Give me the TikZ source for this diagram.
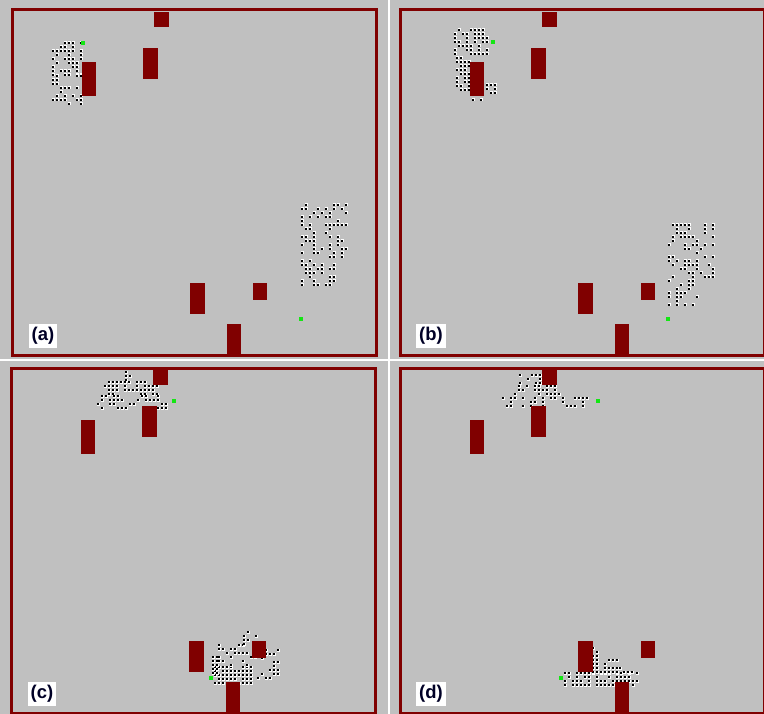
\documentclass[tikz,border=0pt]{standalone}
\usepackage{fontspec}
\setmainfont{Liberation Sans}
\usepackage{tikz}

\definecolor{floor}{RGB}{192,192,192}
\definecolor{brick}{RGB}{128,0,0}
\definecolor{goalgreen}{RGB}{20,230,20}

% one grid of agents, each cell filled with probability #5
\newcommand\crowd[5]{%
  \pgfmathtruncatemacro\nx{(#3-#1)/4}%
  \pgfmathtruncatemacro\ny{(#4-#2)/4}%
  \foreach \i in {0,...,\nx}{%
    \foreach \j in {0,...,\ny}{%
      \pgfmathtruncatemacro\hit{rnd<#5}%
      \ifnum\hit=1
        \fill[white] ({#1+4*\i-1.5},{#2+4*\j-1.5}) rectangle ++(3,3);
        \fill[black] ({#1+4*\i-0.65},{#2+4*\j-0.65}) rectangle ++(1.3,1.3);
      \fi}}}

\newcommand\arena[4]{%
  \begin{scope}[shift={(#1,#2)}]
    \draw[wall] (0,0) rectangle (364,345);
    \fill[block] (142,2) rectangle (157,17);
    \fill[block] (131,38) rectangle (146,69);
    \fill[block] (70,52) rectangle (84,86);
    \fill[block] (178,273) rectangle (193,304);
    \fill[block] (241,273) rectangle (255,290);
    \fill[block] (215,314) rectangle (229,344);
    \node[tag] (#3) at (31,326) {(#4)};
  \end{scope}}

\begin{document}
\begin{tikzpicture}[
    x=0.2mm, y=-0.2mm,
    wall/.style={draw=brick, line width=0.6mm},
    block/.style={fill=brick},
    goal/.style={fill=goalgreen},
    tag/.style={fill=white, inner sep=1.8pt, font=\fontsize{10.5}{12}\selectfont\bfseries, text=black!85!blue}
  ]
  \useasboundingbox (0,0) rectangle (764,714);
  \fill[floor] (0,0) rectangle (764,714);
  \fill[white] (388,0) rectangle (390,714);
  \fill[white] (0,359) rectangle (764,361);

  \pgfmathsetseed{11}
  % (a)
  \crowd{53}{43}{81}{75}{0.5}
  \crowd{53}{76}{81}{107}{0.3}
  \crowd{302}{205}{346}{260}{0.38}
  \crowd{302}{261}{334}{286}{0.33}
  % (b)
  \crowd{455}{30}{490}{54}{0.65}
  \crowd{457}{58}{469}{92}{0.7}
  \crowd{487}{85}{495}{95}{0.4}
  \crowd{473}{100}{483}{103}{0.7}
  \crowd{669}{225}{714}{280}{0.38}
  \crowd{669}{281}{700}{305}{0.33}
  % (c)
  \crowd{118}{372}{130}{380}{0.5}
  \crowd{105}{382}{158}{394}{0.55}
  \crowd{98}{396}{168}{408}{0.45}
  \crowd{215}{667}{253}{683}{0.8}
  \crowd{213}{657}{217}{673}{0.7}
  \crowd{219}{645}{260}{665}{0.3}
  \crowd{258}{650}{278}{678}{0.4}
  \crowd{240}{632}{256}{644}{0.3}
  % (d)
  \crowd{520}{375}{545}{385}{0.5}
  \crowd{515}{386}{560}{396}{0.5}
  \crowd{503}{398}{590}{408}{0.45}
  \crowd{565}{673}{640}{687}{0.75}
  \crowd{593}{660}{620}{672}{0.7}
  \crowd{593}{648}{600}{659}{0.7}
  \crowd{620}{664}{635}{672}{0.3}

  \arena{12}{10}{pa}{a}
  \arena{400}{10}{pb}{b}
  \arena{11}{368}{pc}{c}
  \arena{400}{368}{pd}{d}

  \fill[goal] (81,41) rectangle ++(4,4);
  \fill[goal] (299,317) rectangle ++(4,4);
  \fill[goal] (491,40) rectangle ++(4,4);
  \fill[goal] (666,317) rectangle ++(4,4);
  \fill[goal] (172,399) rectangle ++(4,4);
  \fill[goal] (209,676) rectangle ++(4,4);
  \fill[goal] (596,399) rectangle ++(4,4);
  \fill[goal] (559,676) rectangle ++(4,4);
\end{tikzpicture}
\end{document}
